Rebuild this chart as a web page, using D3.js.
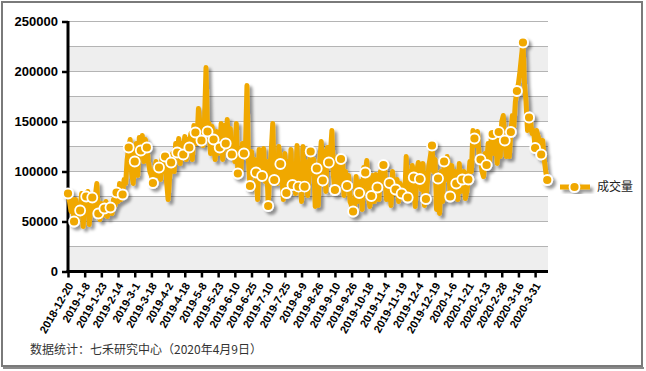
<!DOCTYPE html>
<html>
<head>
<meta charset="utf-8">
<script src="https://cdn.jsdelivr.net/npm/d3@7"></script>
<style>
  body { margin: 0; background: #fff; }
  svg { display: block; }
  .axis text { font-family: Arial, "Liberation Sans", sans-serif; font-weight: bold; fill: #000; }
</style>
</head>
<body>
<svg id="chart" width="646" height="371"></svg>
<script>
// x tick labels, one every 11 trading days
var tickLabels = ["2018-12-20","2019-1-8","2019-1-23","2019-2-14","2019-3-1","2019-3-18","2019-4-2",
  "2019-4-18","2019-5-8","2019-5-23","2019-6-10","2019-6-25","2019-7-10","2019-7-25","2019-8-9",
  "2019-8-26","2019-9-10","2019-9-26","2019-10-18","2019-11-4","2019-11-19","2019-12-4","2019-12-19",
  "2020-1-6","2020-1-21","2020-2-13","2020-2-28","2020-3-16","2020-3-31"];
var tickStep = 11;

// daily volume (成交量)
var volume = [
  78000, 70000, 60000, 72000, 50000, 72000, 52000, 66000, 61000, 78000, 45000, 70000,
  75000, 80000, 47000, 66000, 74000, 62000, 76000, 88000, 58000, 52000, 68000, 56000,
  63000, 70000, 55000, 66000, 64000, 58000, 72000, 66000, 79000, 70000, 88000, 72000,
  77000, 92000, 88000, 112000, 124000, 132000, 98000, 88000, 110000, 128000, 96000, 134000,
  121000, 136000, 110000, 132000, 124000, 110000, 100000, 96000, 88500, 100000, 110000, 96000,
  104000, 92000, 116000, 100000, 115000, 90000, 72000, 94000, 109000, 118000, 100000, 128000,
  119000, 133000, 108000, 128000, 117000, 135000, 112000, 132000, 124000, 138000, 112000, 146000,
  139000, 128000, 163000, 148000, 131000, 126000, 150000, 204000, 140000, 148000, 118000, 145000,
  132000, 112000, 140000, 118000, 124000, 148000, 112000, 146000, 128000, 152000, 118000, 143000,
  117000, 130000, 110000, 148000, 98000, 120000, 100000, 128000, 118000, 124000, 186000, 110000,
  85500, 120000, 96000, 112000, 99000, 72000, 122000, 100000, 95500, 123000, 90000, 110000,
  65500, 100000, 120000, 148000, 91500, 110000, 88000, 125000, 107500, 96000, 72000, 118000,
  78500, 110000, 78000, 122000, 86500, 100000, 78000, 126000, 84800, 96000, 70000, 125000,
  84800, 110000, 76000, 98000, 120000, 98000, 112000, 65000, 103000, 66000, 110000, 130000,
  91000, 120000, 80000, 124000, 109000, 118000, 141000, 96000, 81500, 96000, 115000, 88000,
  112500, 112000, 76000, 100000, 85500, 96000, 70000, 66000, 60000, 65000, 95000, 70000,
  78500, 90000, 62000, 104000, 99000, 111000, 78000, 65000, 75500, 96000, 70000, 97000,
  84000, 72000, 100000, 90000, 106500, 100000, 72000, 92000, 88500, 66000, 100000, 78000,
  82000, 92000, 70000, 88000, 78000, 82000, 72000, 115000, 74000, 100000, 80000, 106000,
  94000, 65000, 100000, 109000, 92500, 82000, 108000, 66000, 72500, 90000, 106000, 116000,
  126000, 100000, 112000, 62000, 93000, 58000, 100000, 70000, 110000, 92000, 115000, 104000,
  75000, 106000, 78000, 100000, 88000, 72000, 108000, 80000, 92000, 100000, 73000, 80000,
  92000, 110000, 100000, 141000, 133000, 126000, 140000, 118000, 112000, 100000, 95000, 118000,
  106500, 128000, 110000, 132000, 137500, 118000, 140000, 108000, 139500, 115000, 150000, 156000,
  131000, 115000, 140000, 115000, 139500, 156000, 145000, 170000, 180500, 188000, 200000, 215000,
  229000, 188000, 170000, 141000, 154000, 150000, 138000, 141000, 123500, 141000, 135000, 131000,
  117000, 131000, 112000, 100000, 91500
];
var markerStep = 4;

var yTicks = [0, 50000, 100000, 150000, 200000, 250000];
var gridValues = d3.range(25000, 250001, 25000);
var seriesName = "成交量";
var sourceNote = "数据统计：七禾研究中心（2020年4月9日）";

var orange = "#f0a800";

var svg = d3.select("#chart");

var defs = svg.append("defs");
var f = defs.append("filter").attr("id", "shadow")
    .attr("x", "-10%").attr("y", "-10%").attr("width", "130%").attr("height", "130%");
f.append("feDropShadow").attr("dx", 3).attr("dy", 3).attr("stdDeviation", 1.4)
    .attr("flood-color", "#000").attr("flood-opacity", 0.4);

// outer frame
svg.append("rect").attr("x", 2).attr("y", 2).attr("width", 640).attr("height", 364)
    .attr("fill", "#fff").attr("stroke", "#7a7a7a").attr("stroke-width", 2);
svg.append("line").attr("x1", 3).attr("x2", 644).attr("y1", 368).attr("y2", 368)
    .attr("stroke", "#8a8a8a").attr("stroke-width", 2);

var plotLeft = 68, plotRight = 548, plotTop = 21.5, plotBottom = 271.5;

var x = d3.scaleLinear()
    .domain([0, 316.5])
    .range([plotLeft, plotRight]);

var y = d3.scaleLinear()
    .domain([0, 250000])
    .range([plotBottom, plotTop]);

// alternating bands
var bands = d3.range(0, 250000, 50000);
svg.append("g").selectAll("rect")
    .data(bands)
  .enter().append("rect")
    .attr("x", plotLeft)
    .attr("width", plotRight - plotLeft)
    .attr("y", function(d) { return y(d + 25000); })
    .attr("height", function(d) { return y(d) - y(d + 25000); })
    .attr("fill", "#eeeeee");

svg.append("g").selectAll("line")
    .data(gridValues)
  .enter().append("line")
    .attr("x1", plotLeft).attr("x2", plotRight)
    .attr("y1", function(d) { return y(d); })
    .attr("y2", function(d) { return y(d); })
    .attr("stroke", "#b4b4b4").attr("stroke-width", 1);

// y axis
var yAxis = d3.axisLeft(y).tickValues(yTicks).tickSize(6).tickPadding(4)
    .tickFormat(function(d) { return d; });
var gy = svg.append("g").attr("class", "axis")
    .attr("transform", "translate(" + plotLeft + ",0)")
    .call(yAxis);
gy.select(".domain").attr("stroke", "#000").attr("stroke-width", 3)
    .attr("d", "M0," + (plotTop - 0.5) + "V" + (plotBottom + 1.5));
gy.selectAll(".tick line").attr("stroke", "#000").attr("stroke-width", 2.5);
gy.selectAll("text").style("font-size", "13px");

// x axis
var xAxis = d3.axisBottom(x)
    .tickValues(tickLabels.map(function(d, i) { return i * tickStep; }))
    .tickSize(6)
    .tickFormat(function(d) { return tickLabels[d / tickStep]; });
var gx = svg.append("g").attr("class", "axis")
    .attr("transform", "translate(0," + plotBottom + ")")
    .call(xAxis);
gx.select(".domain").attr("stroke", "#000").attr("stroke-width", 3)
    .attr("d", "M" + (plotLeft - 1.5) + ",0H" + plotRight);
gx.selectAll(".tick line").attr("stroke", "#000").attr("stroke-width", 2.5);
gx.selectAll("text")
    .style("font-size", "11px")
    .attr("text-anchor", "end")
    .attr("dy", "0.35em")
    .attr("transform", "translate(2,12) rotate(-60)")
    .attr("x", 0).attr("y", 0);

// series
var line = d3.line()
    .x(function(d, i) { return x(i); })
    .y(function(d) { return y(d); });

var series = svg.append("g").attr("filter", "url(#shadow)");
series.append("path")
    .datum(volume)
    .attr("d", line)
    .attr("fill", "none")
    .attr("stroke", orange)
    .attr("stroke-width", 5)
    .attr("stroke-linejoin", "round");

var markers = volume.map(function(d, i) { return { i: i, v: d }; })
    .filter(function(d) { return d.i % markerStep === 0; });

series.selectAll("circle")
    .data(markers)
  .enter().append("circle")
    .attr("cx", function(d) { return x(d.i); })
    .attr("cy", function(d) { return y(d.v); })
    .attr("r", 5)
    .attr("fill", orange)
    .attr("stroke", "#fff")
    .attr("stroke-width", 1.8);

// legend
var lg = svg.append("g").attr("transform", "translate(560,187)");
var lgs = lg.append("g").attr("filter", "url(#shadow)");
lgs.append("line").attr("x1", 0).attr("x2", 30).attr("y1", 0).attr("y2", 0)
    .attr("stroke", orange).attr("stroke-width", 5);
lgs.append("circle").attr("cx", 14.5).attr("cy", 0).attr("r", 5)
    .attr("fill", orange).attr("stroke", "#fff").attr("stroke-width", 1.8);
lg.append("text").attr("x", 37).attr("y", 0).attr("dy", "0.36em")
    .style("font-family", "'Noto Sans CJK SC', sans-serif")
    .style("font-size", "12px").attr("fill", "#222")
    .text(seriesName);

// source note
svg.append("text").attr("x", 30).attr("y", 354)
    .style("font-family", "'Noto Sans CJK SC', sans-serif")
    .style("font-size", "12px").attr("fill", "#333")
    .text(sourceNote);
</script>
</body>
</html>
